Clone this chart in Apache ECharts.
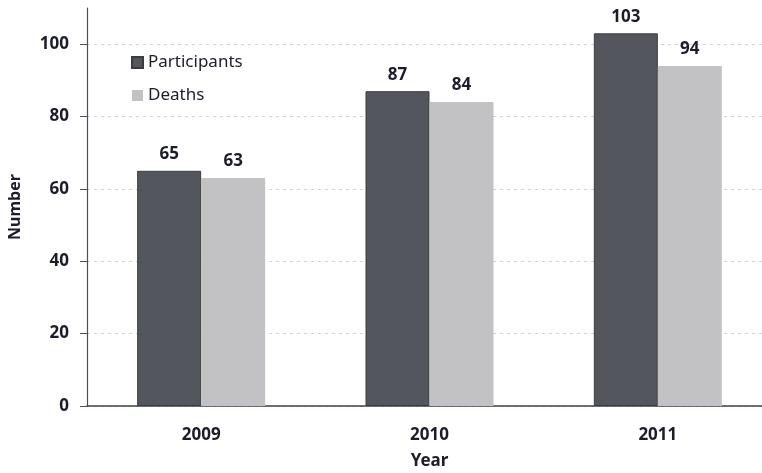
<!DOCTYPE html>
<html>
<head>
<meta charset="utf-8">
<script src="https://cdn.jsdelivr.net/npm/echarts@6/dist/echarts.min.js"></script>
<style>
  html, body { margin: 0; padding: 0; background: #fff; overflow: hidden; }
  /* plot area runs past the right edge of the window */
  #chart { width: 790px; height: 473px; }
</style>
</head>
<body>
<div id="chart"></div>
<script>
// Yearly counts
const years = ['2009', '2010', '2011'];
const participants = [65, 87, 103];
const deaths = [63, 84, 94];
const seriesNames = ['Participants', 'Deaths'];

const FONT = '"Noto Sans", "DejaVu Sans", sans-serif';
const TEXT = '#1c1d2a';

const chart = echarts.init(document.getElementById('chart'));

const labelStyle = {
  show: true,
  position: 'top',
  distance: 8,
  color: TEXT,
  fontFamily: FONT,
  fontWeight: 'bold',
  fontSize: 17
};

chart.setOption({
  animation: false,
  backgroundColor: '#ffffff',
  grid: {
    left: 87, right: 18, top: 8, bottom: 67,
    containLabel: false,
    outerBoundsMode: 'none'
  },
  legend: {
    orient: 'vertical',
    left: 126,
    top: 49,
    itemWidth: 11,
    itemHeight: 11,
    itemGap: 16,
    icon: 'rect',
    textStyle: { color: TEXT, fontFamily: FONT, fontSize: 17 },
    data: seriesNames
  },
  xAxis: {
    type: 'category',
    data: years,
    name: 'Year',
    nameLocation: 'middle',
    nameGap: 47,
    nameTextStyle: { color: TEXT, fontFamily: FONT, fontWeight: 'bold', fontSize: 17 },
    axisLine: { lineStyle: { color: '#3d4250', width: 1.5 } },
    axisTick: { show: false },
    axisLabel: { color: TEXT, fontFamily: FONT, fontWeight: 'bold', fontSize: 17, margin: 21 }
  },
  yAxis: {
    type: 'value',
    min: 0,
    max: 110,
    interval: 20,
    name: 'Number',
    nameLocation: 'middle',
    nameGap: 64,
    nameRotate: 90,
    nameTextStyle: { color: TEXT, fontFamily: FONT, fontWeight: 'bold', fontSize: 16 },
    axisLine: { show: true, lineStyle: { color: '#4a5060', width: 1.2 } },
    axisTick: { show: true, length: 7, lineStyle: { color: '#4a5060' } },
    axisLabel: {
      color: TEXT, fontFamily: FONT, fontWeight: 'bold', fontSize: 17, margin: 18,
      showMaxLabel: false
    },
    splitLine: {
      show: true,
      showMaxLine: false,
      lineStyle: { color: '#cfd2d7', type: [3, 4], width: 1 }
    }
  },
  series: [
    {
      name: seriesNames[0],
      type: 'bar',
      data: participants,
      barWidth: 64,
      barGap: '0%',
      itemStyle: { color: '#53565c', borderColor: '#3a3c40', borderWidth: 1 },
      label: labelStyle
    },
    {
      name: seriesNames[1],
      type: 'bar',
      data: deaths,
      barWidth: 64,
      barGap: '0%',
      itemStyle: { color: '#c2c2c4' },
      label: labelStyle
    }
  ]
});
</script>
</body>
</html>
